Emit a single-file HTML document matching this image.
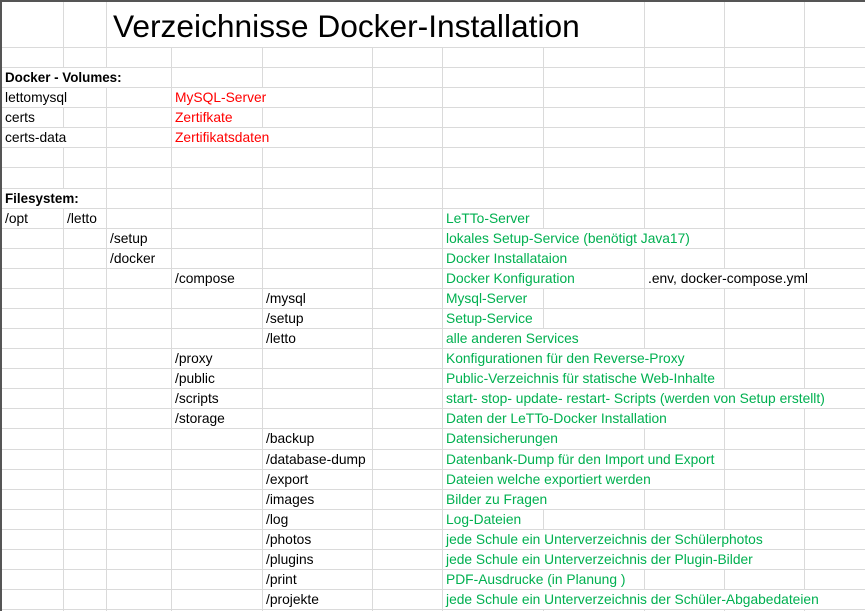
<!DOCTYPE html>
<html><head><meta charset="utf-8"><style>
body{margin:0;width:865px;height:611px;overflow:hidden;background:#fff;position:relative;font-family:"Liberation Sans",sans-serif}
.h{position:absolute;left:0;width:865px;height:1px;background:#dadada}
.v{position:absolute;width:1px;background:#dadada}
.t{position:absolute;height:19px;line-height:20px;font-size:13.8px;white-space:nowrap;background:#fff;padding:0 4px 0 3px;color:#000}
.g{color:#00b050}.r{color:#ff0000}.b{font-weight:bold;font-size:13.4px}
</style></head><body>
<div class="v" style="left:63px;top:0;height:611px"></div>
<div class="v" style="left:106px;top:0;height:611px"></div>
<div class="v" style="left:171px;top:47px;height:564px"></div>
<div class="v" style="left:262px;top:47px;height:564px"></div>
<div class="v" style="left:372px;top:47px;height:564px"></div>
<div class="v" style="left:442px;top:47px;height:564px"></div>
<div class="v" style="left:543px;top:47px;height:564px"></div>
<div class="v" style="left:644px;top:0;height:611px"></div>
<div class="v" style="left:724px;top:0;height:611px"></div>
<div class="v" style="left:804px;top:0;height:611px"></div>
<div class="h" style="top:47px"></div><div class="h" style="top:67px"></div><div class="h" style="top:87px"></div><div class="h" style="top:107px"></div><div class="h" style="top:127px"></div><div class="h" style="top:147px"></div><div class="h" style="top:167px"></div><div class="h" style="top:188px"></div><div class="h" style="top:208px"></div><div class="h" style="top:228px"></div><div class="h" style="top:248px"></div><div class="h" style="top:268px"></div><div class="h" style="top:288px"></div><div class="h" style="top:308px"></div><div class="h" style="top:328px"></div><div class="h" style="top:348px"></div><div class="h" style="top:368px"></div><div class="h" style="top:388px"></div><div class="h" style="top:408px"></div><div class="h" style="top:428px"></div><div class="h" style="top:449px"></div><div class="h" style="top:469px"></div><div class="h" style="top:489px"></div><div class="h" style="top:509px"></div><div class="h" style="top:529px"></div><div class="h" style="top:549px"></div><div class="h" style="top:569px"></div><div class="h" style="top:589px"></div><div class="h" style="top:609px"></div>
<div style="position:absolute;left:0;top:0;width:865px;height:2px;background:#555"></div>
<div style="position:absolute;left:0;top:0;width:2px;height:611px;background:#555"></div>

<div style="position:absolute;left:107px;top:2px;height:44px;line-height:48px;font-size:31.7px;background:#fff;padding:0 6px;white-space:nowrap">Verzeichnisse Docker-Installation</div>

<div class="t b" style="left:2px;top:68px">Docker - Volumes:</div>
<div class="t" style="left:2px;top:88px">lettomysql</div><div class="t r" style="left:172px;top:88px">MySQL-Server</div>
<div class="t" style="left:2px;top:108px">certs</div><div class="t r" style="left:172px;top:108px">Zertifkate</div>
<div class="t" style="left:2px;top:128px">certs-data</div><div class="t r" style="left:172px;top:128px">Zertifikatsdaten</div>
<div class="t b" style="left:2px;top:189px">Filesystem:</div>
<div class="t" style="left:2px;top:209px">/opt</div><div class="t" style="left:64px;top:209px">/letto</div><div class="t g" style="left:443px;top:209px">LeTTo-Server</div>
<div class="t" style="left:107px;top:229px">/setup</div><div class="t g" style="left:443px;top:229px">lokales Setup-Service (benötigt Java17)</div>
<div class="t" style="left:107px;top:249px">/docker</div><div class="t g" style="left:443px;top:249px">Docker Installataion</div>
<div class="t" style="left:172px;top:269px">/compose</div><div class="t g" style="left:443px;top:269px">Docker Konfiguration</div><div class="t" style="left:645px;top:269px">.env, docker-compose.yml</div>
<div class="t" style="left:263px;top:289px">/mysql</div><div class="t g" style="left:443px;top:289px">Mysql-Server</div>
<div class="t" style="left:263px;top:309px">/setup</div><div class="t g" style="left:443px;top:309px">Setup-Service</div>
<div class="t" style="left:263px;top:329px">/letto</div><div class="t g" style="left:443px;top:329px">alle anderen Services</div>
<div class="t" style="left:172px;top:349px">/proxy</div><div class="t g" style="left:443px;top:349px">Konfigurationen für den Reverse-Proxy</div>
<div class="t" style="left:172px;top:369px">/public</div><div class="t g" style="left:443px;top:369px">Public-Verzeichnis für statische Web-Inhalte</div>
<div class="t" style="left:172px;top:389px">/scripts</div><div class="t g" style="left:443px;top:389px">start- stop- update- restart- Scripts (werden von Setup erstellt)</div>
<div class="t" style="left:172px;top:409px">/storage</div><div class="t g" style="left:443px;top:409px">Daten der LeTTo-Docker Installation</div>
<div class="t" style="left:263px;top:429px">/backup</div><div class="t g" style="left:443px;top:429px">Datensicherungen</div>
<div class="t" style="left:263px;top:450px">/database-dump</div><div class="t g" style="left:443px;top:450px">Datenbank-Dump für den Import und Export</div>
<div class="t" style="left:263px;top:470px">/export</div><div class="t g" style="left:443px;top:470px">Dateien welche exportiert werden</div>
<div class="t" style="left:263px;top:490px">/images</div><div class="t g" style="left:443px;top:490px">Bilder zu Fragen</div>
<div class="t" style="left:263px;top:510px">/log</div><div class="t g" style="left:443px;top:510px">Log-Dateien</div>
<div class="t" style="left:263px;top:530px">/photos</div><div class="t g" style="left:443px;top:530px">jede Schule ein Unterverzeichnis der Schülerphotos</div>
<div class="t" style="left:263px;top:550px">/plugins</div><div class="t g" style="left:443px;top:550px">jede Schule ein Unterverzeichnis der Plugin-Bilder</div>
<div class="t" style="left:263px;top:570px">/print</div><div class="t g" style="left:443px;top:570px">PDF-Ausdrucke (in Planung )</div>
<div class="t" style="left:263px;top:590px">/projekte</div><div class="t g" style="left:443px;top:590px">jede Schule ein Unterverzeichnis der Schüler-Abgabedateien</div>
</body></html>
